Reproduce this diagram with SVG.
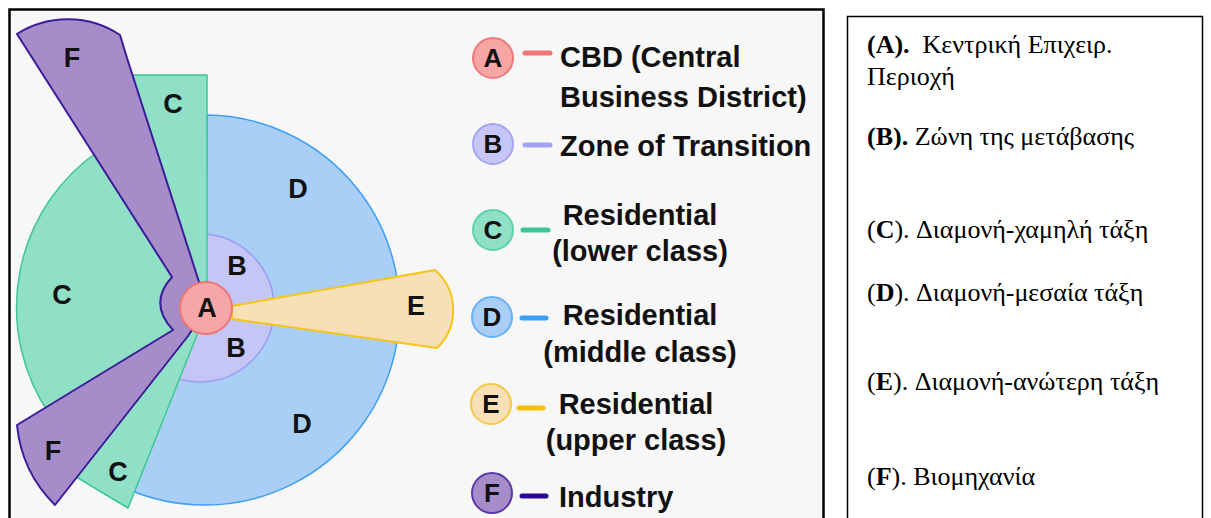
<svg xmlns="http://www.w3.org/2000/svg" width="1211" height="518" viewBox="0 0 1211 518">
<style>
.lbl{font-family:"Liberation Sans",Arial,sans-serif;font-weight:bold;font-size:27px;fill:#111;text-anchor:middle;dominant-baseline:central}
.leg{font-family:"Liberation Sans",Arial,sans-serif;font-weight:bold;font-size:29px;fill:#111}
.lc{font-family:"Liberation Sans",Arial,sans-serif;font-weight:bold;font-size:26px;fill:#111;text-anchor:middle;dominant-baseline:central}
.gr{font-family:"Liberation Serif","Times New Roman",serif;font-size:26px;fill:#000}
.b{font-weight:bold}
.dash{stroke-width:5;stroke-linecap:round;fill:none}
</style>
<rect x="0" y="0" width="1211" height="518" fill="#ffffff"/>
<rect id="panel-left" x="9.5" y="9.5" width="814" height="530" fill="#f7f7f7" stroke="#000" stroke-width="2.5"/>
<rect id="panel-right" x="847.5" y="16.5" width="355" height="530" fill="#ffffff" stroke="#000" stroke-width="1.5"/>

<g id="zone-D">
<path d="M205,310 L207,115 A195,195 0 1 1 125,488 Z" fill="#a9cff7" stroke="#3d9ef5" stroke-width="1.5"/>
</g>
<g id="zone-B">
<circle cx="200" cy="308" r="74" fill="#c6c6f6" stroke="#9c9cf2" stroke-width="1.5"/>
</g>
<g id="zone-C">
<path d="M207,308 L207,75 L128,75 L100,150 A190,190 0 0 0 50,415 L78,478 L128,508 L197,335 Z" fill="#8fe0c6" stroke="#3cc795" stroke-width="1.5" stroke-linejoin="round"/>
</g>
<g id="zone-F">
<path d="M17,34 A95,95 0 0 1 120,35 L127,58 L200,285 L205,310 L188,336 L55,505 A130,130 0 0 1 17,425 L173,330 Q148,303 172,277 Z" fill="#a68cc9" stroke="#3b1d9a" stroke-width="2" stroke-linejoin="round"/>
</g>
<g id="zone-E">
<path d="M232,306 L435,270 A53,53 0 0 1 437,348 L232,319 Z" fill="#f7dfb7" stroke="#f4c416" stroke-width="2" stroke-linejoin="round"/>
</g>
<g id="zone-A">
<circle cx="206" cy="308" r="26" fill="#f6a6a6" stroke="#f07575" stroke-width="2"/>
</g>

<g id="zone-labels">
<text class="lbl" x="72" y="58">F</text>
<text class="lbl" x="173" y="104">C</text>
<text class="lbl" x="298" y="189">D</text>
<text class="lbl" x="237" y="266">B</text>
<text class="lbl" x="62" y="295">C</text>
<text class="lbl" x="207" y="308">A</text>
<text class="lbl" x="416" y="306">E</text>
<text class="lbl" x="236" y="348">B</text>
<text class="lbl" x="302" y="424">D</text>
<text class="lbl" x="53" y="451">F</text>
<text class="lbl" x="118" y="472">C</text>
</g>

<g id="connectors">
<line class="dash" x1="525" y1="53" x2="550" y2="53" stroke="#f27474"/>
<line class="dash" x1="525" y1="145" x2="550" y2="145" stroke="#a3a3f5"/>
<line class="dash" x1="523" y1="230" x2="548" y2="230" stroke="#3cc795"/>
<line class="dash" x1="522" y1="318" x2="546" y2="318" stroke="#3aa0f5"/>
<line class="dash" x1="519" y1="408" x2="543" y2="408" stroke="#f5c20a"/>
<line class="dash" x1="522" y1="496" x2="546" y2="496" stroke="#2a0a9a"/>
</g>

<g id="legend-A">
<circle cx="493" cy="58" r="20" fill="#f7a5a5" stroke="#f07a7a" stroke-width="2"/>
<text class="lc" x="493" y="58">A</text>
<text class="leg" x="560" y="67">CBD (Central</text>
<text class="leg" x="560" y="107">Business District)</text>
</g>
<g id="legend-B">
<circle cx="493" cy="144" r="20" fill="#c6c6f6" stroke="#a5a5f0" stroke-width="2"/>
<text class="lc" x="493" y="144">B</text>
<text class="leg" x="560" y="156">Zone of Transition</text>
</g>
<g id="legend-C">
<circle cx="493" cy="230" r="20" fill="#8fe0c6" stroke="#5dd3a8" stroke-width="2"/>
<text class="lc" x="493" y="230">C</text>
<text class="leg" x="640" y="225" text-anchor="middle">Residential</text>
<text class="leg" x="640" y="261" text-anchor="middle">(lower class)</text>
</g>
<g id="legend-D">
<circle cx="492" cy="317" r="20" fill="#a9cff7" stroke="#66b0f5" stroke-width="2"/>
<text class="lc" x="492" y="317">D</text>
<text class="leg" x="640" y="325" text-anchor="middle">Residential</text>
<text class="leg" x="640" y="362" text-anchor="middle">(middle class)</text>
</g>
<g id="legend-E">
<circle cx="491" cy="404" r="20" fill="#f7dfb7" stroke="#f5c842" stroke-width="2"/>
<text class="lc" x="491" y="404">E</text>
<text class="leg" x="636" y="414" text-anchor="middle">Residential</text>
<text class="leg" x="636" y="450" text-anchor="middle">(upper class)</text>
</g>
<g id="legend-F">
<circle cx="492" cy="493" r="20" fill="#a68cc9" stroke="#5a3aa8" stroke-width="2"/>
<text class="lc" x="492" y="493">F</text>
<text class="leg" x="559" y="507">Industry</text>
</g>

<g id="greek-key">
<text class="gr" x="867" y="53" xml:space="preserve"><tspan class="b">(A).</tspan>  Κεντρική Επιχειρ.</text>
<text class="gr" x="867" y="85">Περιοχή</text>
<text class="gr" x="867" y="145"><tspan class="b">(B).</tspan> Ζώνη της μετάβασης</text>
<text class="gr" x="867" y="238">(<tspan class="b">C</tspan>). Διαμονή-χαμηλή τάξη</text>
<text class="gr" x="867" y="301">(<tspan class="b">D</tspan>). Διαμονή-μεσαία τάξη</text>
<text class="gr" x="867" y="390">(<tspan class="b">E</tspan>). Διαμονή-ανώτερη τάξη</text>
<text class="gr" x="867" y="485">(<tspan class="b">F</tspan>). Βιομηχανία</text>
</g>
</svg>
